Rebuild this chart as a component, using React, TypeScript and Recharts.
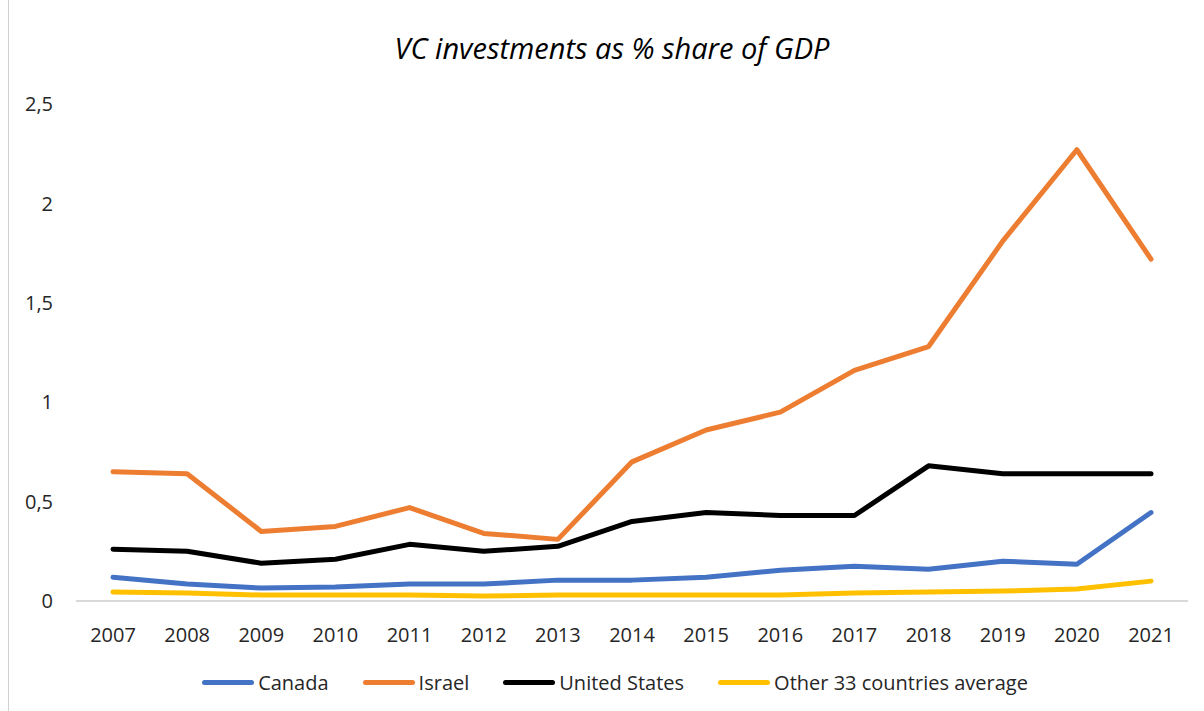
import React from 'react';
import { LineChart, Line, XAxis, YAxis, Legend } from 'recharts';

const years = ['2007', '2008', '2009', '2010', '2011', '2012', '2013', '2014', '2015', '2016', '2017', '2018', '2019', '2020', '2021'];
const canada = [0.12, 0.085, 0.065, 0.07, 0.085, 0.085, 0.105, 0.105, 0.12, 0.155, 0.175, 0.16, 0.2, 0.185, 0.445];
const israel = [0.65, 0.64, 0.35, 0.375, 0.47, 0.34, 0.31, 0.7, 0.86, 0.95, 1.16, 1.28, 1.81, 2.27, 1.72];
const unitedStates = [0.26, 0.25, 0.19, 0.21, 0.285, 0.25, 0.275, 0.4, 0.445, 0.43, 0.43, 0.68, 0.64, 0.64, 0.64];
const others = [0.045, 0.04, 0.03, 0.03, 0.03, 0.025, 0.03, 0.03, 0.03, 0.03, 0.04, 0.045, 0.05, 0.06, 0.1];
const yTicks = [0, 0.5, 1, 1.5, 2, 2.5];

const series = [
  { key: 'canada', name: 'Canada', color: '#4472C4' },
  { key: 'israel', name: 'Israel', color: '#ED7D31' },
  { key: 'us', name: 'United States', color: '#000000' },
  { key: 'other', name: 'Other 33 countries average', color: '#FFC000' },
];

const data = years.map((year, i) => ({
  year,
  canada: canada[i],
  israel: israel[i],
  us: unitedStates[i],
  other: others[i],
}));

const FONT = '"Open Sans", sans-serif';

const LegendContent = () => (
  <div style={{ display: 'flex', justifyContent: 'center', alignItems: 'center', height: 30, paddingLeft: 26 }}>
    {series.map((s, i) => (
      <div key={s.key} style={{ display: 'flex', alignItems: 'center', marginLeft: i === 0 ? 0 : 34 }}>
        <span style={{ display: 'inline-block', width: 52, height: 5, borderRadius: 3, background: s.color, marginRight: 4 }} />
        <span style={{ fontFamily: FONT, fontSize: 20, color: '#262626' }}>{s.name}</span>
      </div>
    ))}
  </div>
);

const App: React.FC = () => {
  return (
    <div style={{ position: 'absolute', left: 0, top: 0, width: 1204, height: 711, background: '#fff' }}>
      <div style={{ position: 'absolute', left: 8, top: 0, width: 0, height: 711, borderLeft: '1px solid #d0d0d0' }} />
      <div
        style={{
          position: 'absolute',
          left: 0,
          width: 1224,
          top: 28,
          textAlign: 'center',
          fontFamily: FONT,
          fontStyle: 'italic',
          fontSize: 29,
          color: '#000',
        }}
      >
        VC investments as % share of GDP
      </div>
      <LineChart width={1204} height={711} data={data} margin={{ top: 104, right: 16, left: 16, bottom: 14 }}>
        <XAxis
          dataKey="year"
          height={66}
          padding={{ left: 37, right: 37 }}
          axisLine={{ stroke: '#d9d9d9', strokeWidth: 2 }}
          tickLine={false}
          tickMargin={21}
          tick={{ fontFamily: FONT, fontSize: 20, fill: '#262626' }}
        />
        <YAxis
          width={60}
          domain={[0, 2.5]}
          ticks={yTicks}
          axisLine={false}
          tickLine={false}
          tickMargin={17}
          tickFormatter={(v) => String(v).replace('.', ',')}
          tick={{ fontFamily: FONT, fontSize: 20, fill: '#262626' }}
        />
        <Legend verticalAlign="bottom" content={<LegendContent />} />
        {series.map((s) => (
          <Line
            key={s.key}
            type="linear"
            dataKey={s.key}
            name={s.name}
            stroke={s.color}
            strokeWidth={5}
            strokeLinecap="round"
            strokeLinejoin="round"
            dot={false}
            activeDot={false}
            isAnimationActive={false}
          />
        ))}
      </LineChart>
    </div>
  );
};

export default App;
